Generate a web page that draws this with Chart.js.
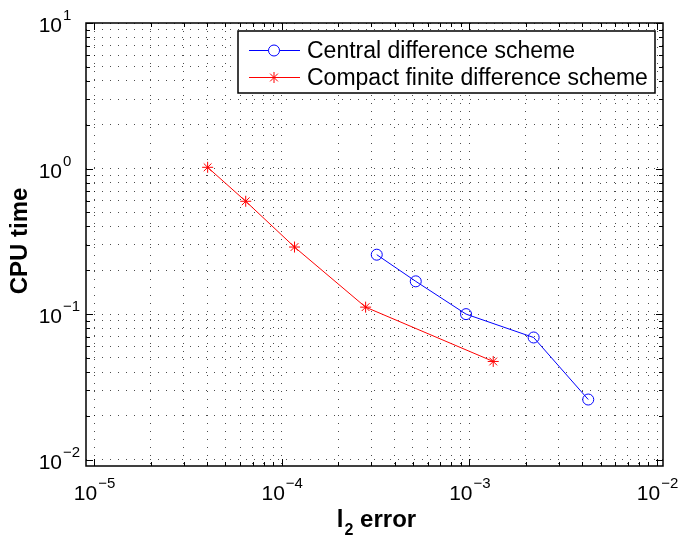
<!DOCTYPE html>
<html>
<head>
<meta charset="utf-8">
<script src="https://cdn.jsdelivr.net/npm/chart.js@4"></script>
<style>
  html, body { margin: 0; padding: 0; background: #fff; }
  #wrap { width: 685px; height: 537px; }
</style>
</head>
<body>
<div id="wrap"><canvas id="myGraph" width="685" height="537"></canvas></div>
<script>
"use strict";

// series
let seriesNames = ["Central difference scheme", "Compact finite difference scheme"];
let centralErr = [3.21e-4, 5.18e-4, 9.6e-4, 2.2e-3, 4.3e-3];
let centralTime = [0.256, 0.168, 0.100, 0.0691, 0.0259];
let compactErr = [4.03e-5, 6.43e-5, 1.17e-4, 2.8e-4, 1.34e-3];
let compactTime = [1.02, 0.596, 0.289, 0.1117, 0.0473];

// tick labels (base 10, exponent)
let xDecades = [1e-5, 1e-4, 1e-3, 1e-2];
let xExponents = ["\u22125", "\u22124", "\u22123", "\u22122"];
let yDecades = [1e-2, 1e-1, 1e0, 1e1];
let yExponents = ["\u22122", "\u22121", "0", "1"];

const FONT = '"Liberation Sans", Arial, Helvetica, sans-serif';

function allTicks(decades) {
    let out = [];
    for (let i = 0; i < decades.length; i++) {
        out.push(decades[i]);
        if (i < decades.length - 1) {
            for (let m = 2; m <= 9; m++) out.push(decades[i] * m);
        }
    }
    return out;
}

function toPoints(xs, ys) {
    return xs.map((x, i) => ({ x: x, y: ys[i] }));
}

const gridStyle = {
    color: "rgba(0,0,0,0.7)",
    lineWidth: 1,
    drawTicks: false,
    borderDash: [1, 7],
};

const matlabAxes = {
    id: "matlabAxes",
    afterDraw(chart) {
        const ctx = chart.ctx;
        const a = chart.chartArea;
        const xs = chart.scales.x;
        const ys = chart.scales.y;
        ctx.save();

        // box
        ctx.strokeStyle = "#000";
        ctx.lineWidth = 1.5;
        ctx.strokeRect(a.left, a.top, a.right - a.left, a.bottom - a.top);

        // inward ticks
        ctx.lineWidth = 1;
        allTicks(xDecades).forEach(v => {
            let px = Math.round(xs.getPixelForValue(v)) + 0.5;
            let len = xDecades.includes(v) ? 7 : 4;
            ctx.beginPath();
            ctx.moveTo(px, a.bottom); ctx.lineTo(px, a.bottom - len);
            ctx.moveTo(px, a.top); ctx.lineTo(px, a.top + len);
            ctx.stroke();
        });
        allTicks(yDecades).forEach(v => {
            let py = Math.round(ys.getPixelForValue(v)) + 0.5;
            let len = yDecades.includes(v) ? 7 : 4;
            ctx.beginPath();
            ctx.moveTo(a.left, py); ctx.lineTo(a.left + len, py);
            ctx.moveTo(a.right, py); ctx.lineTo(a.right - len, py);
            ctx.stroke();
        });

        // tick labels
        ctx.fillStyle = "#000";
        ctx.textBaseline = "alphabetic";
        ctx.textAlign = "left";
        xDecades.forEach((v, i) => {
            let px = xs.getPixelForValue(v);
            ctx.font = "21px " + FONT;
            let w1 = ctx.measureText("10").width;
            ctx.font = "15px " + FONT;
            let w2 = ctx.measureText(xExponents[i]).width;
            let x0 = px - (w1 + w2) / 2;
            ctx.font = "21px " + FONT;
            ctx.fillText("10", x0, 500);
            ctx.font = "15px " + FONT;
            ctx.fillText(xExponents[i], x0 + w1 + 1, 488);
        });
        yDecades.forEach((v, i) => {
            let py = ys.getPixelForValue(v);
            ctx.font = "21px " + FONT;
            let w1 = ctx.measureText("10").width;
            ctx.fillText("10", 62 - w1, py + 9);
            ctx.font = "15px " + FONT;
            ctx.fillText(yExponents[i], 63, py - 3);
        });

        // axis titles
        ctx.font = "bold 24px " + FONT;
        let wl = ctx.measureText("l").width;
        let we = ctx.measureText(" error").width;
        ctx.font = "bold 16px " + FONT;
        let w2 = ctx.measureText("2").width;
        let startX = 376 - (wl + w2 + we) / 2;
        ctx.font = "bold 24px " + FONT;
        ctx.fillText("l", startX, 527);
        ctx.font = "bold 16px " + FONT;
        ctx.fillText("2", startX + wl + 1, 535);
        ctx.font = "bold 24px " + FONT;
        ctx.fillText(" error", startX + wl + w2 + 1, 527);

        ctx.save();
        ctx.translate(27, 241);
        ctx.rotate(-Math.PI / 2);
        ctx.textAlign = "center";
        ctx.fillText("CPU time", 0, 0);
        ctx.restore();

        // legend box
        const lx = 238, ly = 31, lw = 417, lh = 62;
        ctx.fillStyle = "#fff";
        ctx.fillRect(lx, ly, lw, lh);
        ctx.strokeStyle = "#000";
        ctx.lineWidth = 1.5;
        ctx.strokeRect(lx, ly, lw, lh);
        const rowsY = [50, 77];
        chart.data.datasets.forEach((ds, i) => {
            let y = rowsY[i];
            ctx.strokeStyle = ds.borderColor;
            ctx.lineWidth = 1;
            ctx.beginPath();
            ctx.moveTo(249, y + 0.5); ctx.lineTo(300, y + 0.5);
            ctx.stroke();
            Chart.helpers.drawPoint(ctx, {
                pointStyle: ds.pointStyle,
                radius: ds.pointRadius,
                borderWidth: 1,
                rotation: 0,
            }, 274, y + 0.5);
            ctx.fillStyle = "#000";
            ctx.font = "23px " + FONT;
            ctx.textAlign = "left";
            ctx.fillText(ds.label, 307, y + 8);
        });
        ctx.restore();
    },
};

const data = {
    datasets: [
        {
            label: seriesNames[0],
            data: toPoints(centralErr, centralTime),
            borderColor: "#0000ff",
            backgroundColor: "rgba(0,0,0,0)",
            borderWidth: 1,
            showLine: true,
            pointStyle: "circle",
            pointRadius: 5.5,
            pointBorderWidth: 1,
        },
        {
            label: seriesNames[1],
            data: toPoints(compactErr, compactTime),
            borderColor: "#ff0000",
            backgroundColor: "rgba(0,0,0,0)",
            borderWidth: 1,
            showLine: true,
            pointStyle: "star",
            pointRadius: 5.5,
            pointBorderWidth: 1,
        },
    ],
};

const config = {
    type: "scatter",
    data: data,
    options: {
        responsive: false,
        animation: false,
        devicePixelRatio: 1,
        layout: { padding: { left: 0, top: 23, right: 22, bottom: 0 } },
        plugins: {
            legend: { display: false },
            tooltip: { enabled: false },
        },
        scales: {
            x: {
                type: "logarithmic",
                min: 9.06e-6,
                max: 1.076e-2,
                afterBuildTicks: (scale) => {
                    scale.ticks = allTicks(xDecades).map(v => ({ value: v }));
                },
                afterFit: (scale) => { scale.height = 71; },
                ticks: { display: false },
                grid: gridStyle,
                border: { display: false, dash: [1, 7] },
            },
            y: {
                type: "logarithmic",
                min: 0.00905,
                max: 10,
                afterBuildTicks: (scale) => {
                    scale.ticks = allTicks(yDecades).map(v => ({ value: v }));
                },
                afterFit: (scale) => { scale.width = 86; },
                ticks: { display: false },
                grid: gridStyle,
                border: { display: false, dash: [1, 7] },
            },
        },
    },
    plugins: [matlabAxes],
};

const canvasChart = document.getElementById("myGraph");
new Chart(canvasChart, config);
</script>
</body>
</html>
